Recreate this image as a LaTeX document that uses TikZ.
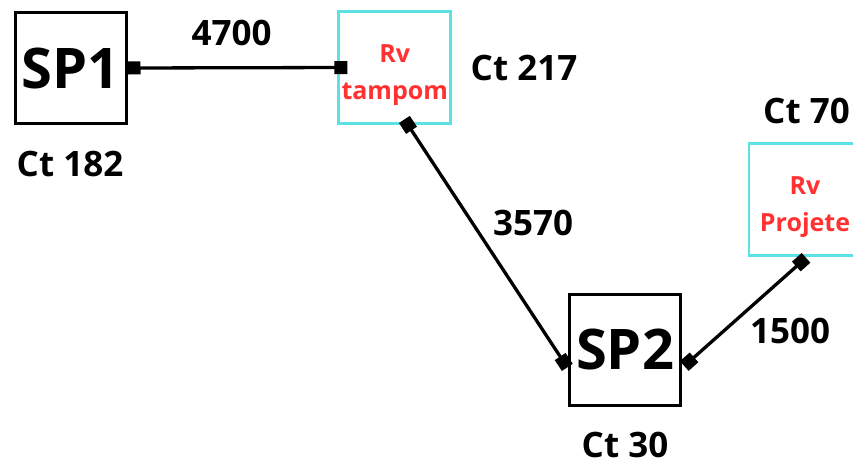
\documentclass[tikz,border=0pt]{standalone}
\usepackage{fontspec}
\setmainfont{Open Sans}
\usetikzlibrary{arrows.meta,calc}
\definecolor{cyanb}{HTML}{5CE1E6}
\definecolor{redt}{HTML}{FF3131}
\begin{document}
\begin{tikzpicture}[x=1pt,y=-1pt,
  spbox/.style={draw=black,line width=3pt,minimum width=111pt,minimum height=111pt,inner sep=0pt,
    font=\fontsize{56}{60}\selectfont\bfseries},
  rvbox/.style={draw=cyanb,line width=2.7pt,minimum width=112pt,minimum height=112pt,inner sep=0pt,
    align=center,text=redt,font=\fontsize{25}{37}\selectfont\bfseries},
  lbl/.style={anchor=base,inner sep=0pt,font=\fontsize{35}{40}\selectfont\bfseries},
  conn/.style={line width=3.3pt,{Square[length=13pt,width=13pt]}-{Square[length=13pt,width=13pt]}}
]
\clip (0,0) rectangle (853,466);
\fill[white] (0,0) rectangle (853,466);
% boxes
\node[spbox] (sp1) at (70.5,68) {SP1};
\node[rvbox] (rv1) at (394.7,67.5) {\\[-4pt]Rv\\tampom};
\node[spbox] (sp2) at (625,349.8) {SP2};
\node[rvbox] (rv2) at (805,199.2) {\\[-4pt]Rv\\Projete};
% labels
\node[lbl] (l1) at (70,176.7) {Ct 182};
\node[lbl] (l2) at (231.5,45) {4700};
\node[lbl] (l3) at (524,80) {Ct 217};
\node[lbl] (l4) at (533,235) {3570};
\node[lbl] (l5) at (625,457) {Ct 30};
\node[lbl] (l6) at (806.5,123) {Ct 70};
\node[lbl] (l7) at (790,343) {1500};
% connector end points
\coordinate (a1) at (sp1.east);
\coordinate (a2) at ($(rv1.west)+(10,0)$);
\coordinate (b1) at ($(rv1.south)+(9.7,-5.4)$);
\coordinate (b2) at ($(sp2.west)+(-0.7,17.6)$);
\coordinate (c1) at ($(sp2.east)+(2.3,16.2)$);
\coordinate (c2) at ($(rv2.south)+(1,1.3)$);
% connectors
\draw[conn] (a1) -- (a2);
\draw[conn] (b1) -- (b2);
\draw[conn] (c1) -- (c2);
\end{tikzpicture}
\end{document}
